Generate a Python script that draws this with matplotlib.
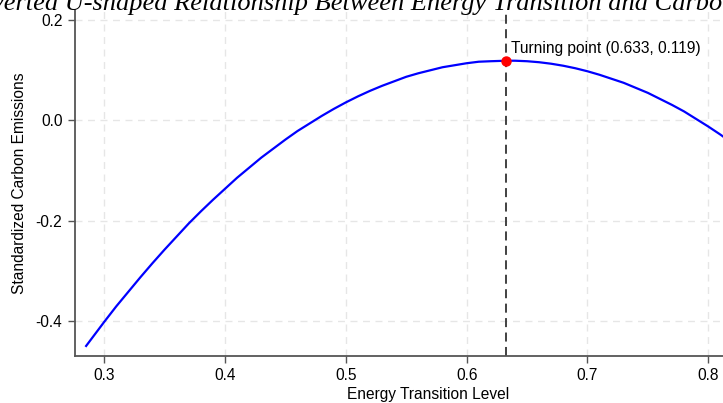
import matplotlib
matplotlib.use("Agg")
import matplotlib.pyplot as plt

# values
energy_level = [0.285, 0.29, 0.30, 0.31, 0.32, 0.33, 0.34, 0.35, 0.36, 0.37,
                0.38, 0.39, 0.40, 0.41, 0.42, 0.43, 0.44, 0.45, 0.46, 0.47,
                0.48, 0.49, 0.50, 0.51, 0.52, 0.53, 0.54, 0.55, 0.56, 0.57,
                0.58, 0.59, 0.60, 0.61, 0.62, 0.633, 0.64, 0.65, 0.66, 0.67,
                0.68, 0.69, 0.70, 0.71, 0.72, 0.73, 0.74, 0.75, 0.76, 0.77,
                0.78, 0.79, 0.80, 0.81, 0.82]
emissions = [-0.449, -0.433, -0.401, -0.370, -0.341, -0.312, -0.284, -0.257, -0.231, -0.205,
             -0.181, -0.158, -0.136, -0.114, -0.094, -0.074, -0.056, -0.038, -0.021, -0.006,
             0.009, 0.023, 0.036, 0.048, 0.059, 0.069, 0.078, 0.087, 0.094, 0.100,
             0.106, 0.110, 0.114, 0.117, 0.118, 0.119, 0.119, 0.118, 0.116, 0.113,
             0.109, 0.104, 0.098, 0.091, 0.083, 0.075, 0.065, 0.055, 0.043, 0.031,
             0.018, 0.003, -0.012, -0.028, -0.045]
turning_x = 0.633
turning_y = 0.119
x_ticks = [0.3, 0.4, 0.5, 0.6, 0.7, 0.8]
y_ticks = [-0.4, -0.2, 0.0, 0.2]
y_tick_labels = ["-0.4", "-0.2", "0.0", "0.2"]

W, H = 723, 403
fig = plt.figure(figsize=(W / 100, H / 100), dpi=100)

x_min, x_max = 0.2758, 0.86
y_min, y_max = -0.469, 0.22
px_per_x = 1208.0
ax_w = (x_max - x_min) * px_per_x
ax = fig.add_axes([75 / W, 47 / H, ax_w / W, 346 / H])

ax.plot(energy_level, emissions, color="#0000ff", linewidth=1.6,
        solid_joinstyle="round", clip_on=False)
ax.axvline(turning_x, color="#333333", linestyle=(0, (5, 3)), linewidth=1.3)
ax.plot([turning_x], [turning_y], "o", color="#ff0000", markersize=6.5, zorder=5)
ax.annotate(f"Turning point ({turning_x:.3f}, {turning_y:.3f})",
            xy=(turning_x, turning_y), xytext=(3.6, 9.0), textcoords="offset points",
            fontsize=11.2, family="Liberation Sans", va="center", ha="left")

ax.set_xlim(x_min, x_max)
ax.set_ylim(y_min, y_max)
ax.set_xticks(x_ticks)
ax.set_xticklabels([f"{v:.1f}" for v in x_ticks])
ax.set_yticks(y_ticks)
ax.set_yticklabels(y_tick_labels)

ax.grid(True, color="#e6e6e6", linestyle=(0, (5, 4)), linewidth=1.0)
ax.set_axisbelow(True)
for s in ["top", "right"]:
    ax.spines[s].set_visible(False)
for s in ["left", "bottom"]:
    ax.spines[s].set_color("#555555")
    ax.spines[s].set_linewidth(1.3)
ax.tick_params(direction="out", length=5, width=1, color="#555555",
               labelsize=11.2, labelcolor="black", pad=4)
for lab in ax.get_xticklabels() + ax.get_yticklabels():
    lab.set_family("Liberation Sans")

ax.set_xlabel("Energy Transition Level", fontsize=11.2, family="Liberation Sans", labelpad=2.5)
ax.set_ylabel("Standardized Carbon Emissions", fontsize=11.2, family="Liberation Sans", labelpad=6)

fig.text(-29.6 / W, 1 - 10 / H, "Inverted U-shaped Relationship Between Energy Transition and Carbon Emissions",
         fontsize=19, family="Liberation Serif", style="italic", ha="left", va="baseline")

fig.savefig("out.png", dpi=100)
